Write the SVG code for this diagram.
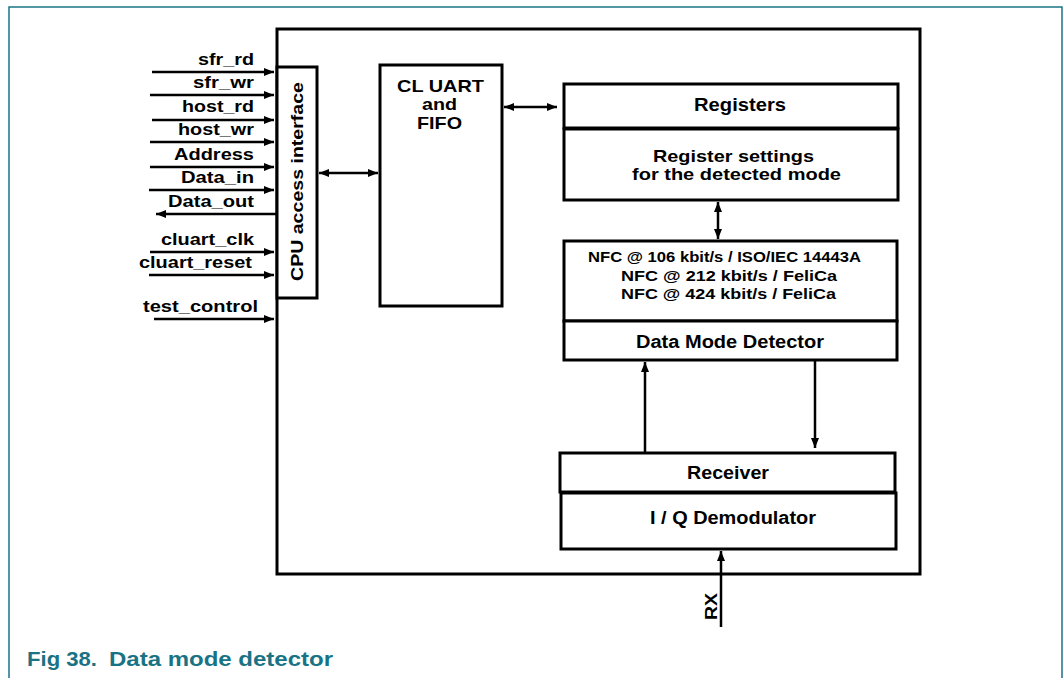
<svg xmlns="http://www.w3.org/2000/svg" width="1064" height="678" viewBox="0 0 1064 678">
<style>
.box{fill:#fff;stroke:#000;stroke-width:3}
.t{font-family:"Liberation Sans",Arial,sans-serif;font-weight:bold;fill:#000}
.s{font-size:17px}
.m{font-size:18px}
.r{font-size:17px}
.n{font-size:15px}
.c{stroke:#000;stroke-width:2.5;fill:none}
.ttl{font-family:"Liberation Sans",Arial,sans-serif;font-weight:bold;font-size:21px;fill:#1a7385}
</style>
<defs>
<marker id="ah" viewBox="0 0 10 8" refX="10" refY="4" markerWidth="10" markerHeight="8" markerUnits="userSpaceOnUse" orient="auto-start-reverse">
<path d="M0,0 L10,4 L0,8 z" fill="#000"/>
</marker>
</defs>
<rect width="1064" height="678" fill="#fff"/>
<path d="M9,678 V7 H1062 V678" fill="none" stroke="#1a7385" stroke-width="1.5"/>
<text class="ttl" x="27" y="666" textLength="70" lengthAdjust="spacingAndGlyphs">Fig 38.</text>
<text class="ttl" x="109" y="666" textLength="224" lengthAdjust="spacingAndGlyphs">Data mode detector</text>

<g id="main"><rect class="box" x="277" y="29" width="643" height="545"/></g>
<g id="cpu"><rect class="box" x="277" y="67" width="40" height="231"/>
<text class="t s" x="0" y="0" textLength="199" lengthAdjust="spacingAndGlyphs" transform="translate(303,281) rotate(-90)">CPU access interface</text></g>
<g id="cluart"><rect class="box" x="380" y="65" width="122" height="241"/>
<text class="t s" x="397" y="92" textLength="87" lengthAdjust="spacingAndGlyphs">CL UART</text>
<text class="t s" x="422" y="110" textLength="35" lengthAdjust="spacingAndGlyphs">and</text>
<text class="t s" x="417" y="129" textLength="45" lengthAdjust="spacingAndGlyphs">FIFO</text></g>
<g id="registers"><rect class="box" x="564" y="84" width="334" height="44"/>
<text class="t m" x="694" y="111" textLength="92" lengthAdjust="spacingAndGlyphs">Registers</text></g>
<g id="regset"><rect class="box" x="564" y="129" width="334" height="71"/>
<text class="t r" x="653" y="162" textLength="161" lengthAdjust="spacingAndGlyphs">Register settings</text>
<text class="t r" x="632" y="180" textLength="209" lengthAdjust="spacingAndGlyphs">for the detected mode</text></g>
<g id="nfc"><rect class="box" x="564" y="241" width="333" height="80"/>
<text class="t n" x="588" y="262" textLength="273" lengthAdjust="spacingAndGlyphs">NFC @ 106 kbit/s / ISO/IEC 14443A</text>
<text class="t n" x="621" y="281" textLength="216" lengthAdjust="spacingAndGlyphs">NFC @ 212 kbit/s / FeliCa</text>
<text class="t n" x="621" y="299" textLength="215" lengthAdjust="spacingAndGlyphs">NFC @ 424 kbit/s / FeliCa</text></g>
<g id="dmd"><rect class="box" x="564" y="321" width="333" height="39"/>
<text class="t m" x="636" y="348" textLength="188" lengthAdjust="spacingAndGlyphs">Data Mode Detector</text></g>
<g id="receiver"><rect class="box" x="560" y="453" width="335" height="39"/>
<text class="t m" x="687" y="479" textLength="82" lengthAdjust="spacingAndGlyphs">Receiver</text></g>
<g id="iq"><rect class="box" x="561" y="493" width="335" height="56"/>
<text class="t m" x="650" y="524" textLength="166" lengthAdjust="spacingAndGlyphs">I / Q Demodulator</text></g>

<g id="connectors">
<line class="c" x1="152" y1="72" x2="274" y2="72" marker-end="url(#ah)"/>
<line class="c" x1="150" y1="95" x2="274" y2="95" marker-end="url(#ah)"/>
<line class="c" x1="152" y1="120" x2="274" y2="120" marker-end="url(#ah)"/>
<line class="c" x1="150" y1="142" x2="274" y2="142" marker-end="url(#ah)"/>
<line class="c" x1="150" y1="167" x2="274" y2="167" marker-end="url(#ah)"/>
<line class="c" x1="149" y1="190" x2="274" y2="190" marker-end="url(#ah)"/>
<line class="c" x1="276" y1="214" x2="156" y2="214" marker-end="url(#ah)"/>
<line class="c" x1="150" y1="252" x2="274" y2="252" marker-end="url(#ah)"/>
<line class="c" x1="149" y1="275" x2="274" y2="275" marker-end="url(#ah)"/>
<line class="c" x1="154" y1="319" x2="274" y2="319" marker-end="url(#ah)"/>
<line class="c" x1="319" y1="173" x2="378" y2="173" marker-start="url(#ah)" marker-end="url(#ah)"/>
<line class="c" x1="504" y1="107" x2="557" y2="107" marker-start="url(#ah)" marker-end="url(#ah)"/>
<line class="c" x1="718" y1="202" x2="718" y2="239" marker-start="url(#ah)" marker-end="url(#ah)"/>
<line class="c" x1="645" y1="452" x2="645" y2="362" marker-end="url(#ah)"/>
<line class="c" x1="815" y1="361" x2="815" y2="448" marker-end="url(#ah)"/>
<line class="c" x1="721" y1="627" x2="721" y2="551" marker-end="url(#ah)"/>
</g>
<g id="labels">
<text class="t s" x="198" y="65" textLength="56" lengthAdjust="spacingAndGlyphs">sfr_rd</text>
<text class="t s" x="193" y="88" textLength="61" lengthAdjust="spacingAndGlyphs">sfr_wr</text>
<text class="t s" x="182" y="112" textLength="72" lengthAdjust="spacingAndGlyphs">host_rd</text>
<text class="t s" x="178" y="135" textLength="76" lengthAdjust="spacingAndGlyphs">host_wr</text>
<text class="t s" x="174" y="160" textLength="80" lengthAdjust="spacingAndGlyphs">Address</text>
<text class="t s" x="181" y="183" textLength="73" lengthAdjust="spacingAndGlyphs">Data_in</text>
<text class="t s" x="168" y="207" textLength="86" lengthAdjust="spacingAndGlyphs">Data_out</text>
<text class="t s" x="161" y="245" textLength="93" lengthAdjust="spacingAndGlyphs">cluart_clk</text>
<text class="t s" x="139" y="268" textLength="113" lengthAdjust="spacingAndGlyphs">cluart_reset</text>
<text class="t s" x="143" y="312" textLength="115" lengthAdjust="spacingAndGlyphs">test_control</text>
<text class="t s" x="0" y="0" textLength="27" lengthAdjust="spacingAndGlyphs" transform="translate(717,620) rotate(-90)">RX</text>
</g>
</svg>
